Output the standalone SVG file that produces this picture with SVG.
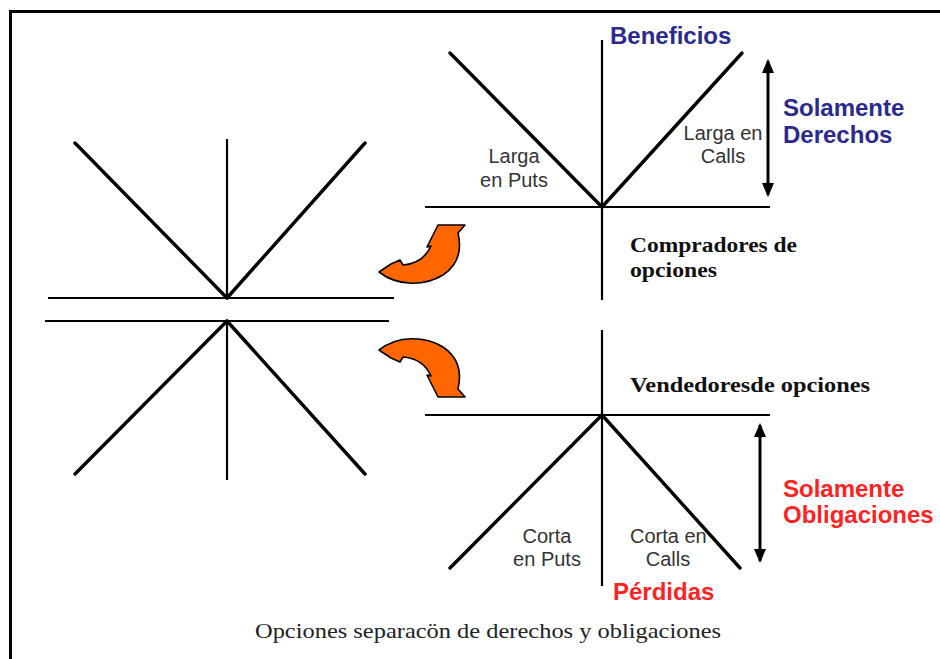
<svg xmlns="http://www.w3.org/2000/svg" width="940" height="659" viewBox="0 0 940 659">
<style>
.ax{stroke:#000;stroke-width:2.2;fill:none}
.dg{stroke:#000;stroke-width:3.4;fill:none;stroke-linecap:round}
.dbl{stroke:#000;stroke-width:3;fill:none;marker-start:url(#ah);marker-end:url(#ah)}
.big{font-family:"Liberation Sans",Arial,sans-serif;font-size:24px;font-weight:bold}
.blue{fill:#2a2a8e}
.red{fill:#ff2222}
.lbl{font-family:"Liberation Sans",Arial,sans-serif;font-size:20px;fill:#333}
.ser{font-family:"Liberation Serif","Times New Roman",serif;font-size:21px;font-weight:bold;fill:#111}
.cap{font-family:"Liberation Serif","Times New Roman",serif;font-size:22px;fill:#222}
.orange{fill:#ff6600;stroke:#000;stroke-width:1.6;stroke-linejoin:round}
</style>
<defs>
<marker id="ah" viewBox="0 0 14 12" refX="12" refY="6" markerWidth="14" markerHeight="12" markerUnits="userSpaceOnUse" orient="auto-start-reverse">
<path d="M0,0 L14,6 L0,12 Z" fill="#000"/>
</marker>
<path id="curv" d="M379,272 L391,264 L400,260 L403,265 C416,264 426,257 431,246 L427,247 L438,225 L465,225 L458,233 C462,250 458,265 443,275 C425,286 398,287 379,272 Z"/>
</defs>
<rect x="0" y="0" width="940" height="659" fill="#fff"/>
<path d="M10.5,660 L10.5,11.5 L941,11.5" fill="none" stroke="#000" stroke-width="3"/>

<g id="left-diagram">
<line class="ax" x1="227" y1="139" x2="227" y2="298"/>
<line class="ax" x1="227" y1="321" x2="227" y2="480"/>
<line class="ax" x1="48" y1="298" x2="394" y2="298"/>
<line class="ax" x1="45" y1="321" x2="389" y2="321"/>
<line class="dg" x1="75" y1="143" x2="227" y2="298"/>
<line class="dg" x1="227" y1="298" x2="365" y2="143"/>
<line class="dg" x1="75" y1="474" x2="227" y2="321"/>
<line class="dg" x1="227" y1="321" x2="365" y2="474"/>
</g>

<g id="connectors">
<use href="#curv" class="orange"/>
<use href="#curv" class="orange" transform="translate(0,622) scale(1,-1)"/>
</g>

<g id="buyers-diagram">
<line class="ax" x1="602" y1="40" x2="602" y2="300"/>
<line class="ax" x1="425" y1="207" x2="770" y2="207"/>
<line class="dg" x1="450" y1="53" x2="602" y2="207"/>
<line class="dg" x1="602" y1="207" x2="742" y2="53"/>
<line class="dbl" x1="768" y1="61" x2="768" y2="195"/>
<text class="big blue" x="610" y="44">Beneficios</text>
<text class="big blue" x="783" y="116">Solamente</text>
<text class="big blue" x="783" y="143">Derechos</text>
<text class="lbl" x="723" y="140" text-anchor="middle">Larga en</text>
<text class="lbl" x="723" y="163" text-anchor="middle">Calls</text>
<text class="lbl" x="514" y="163" text-anchor="middle">Larga</text>
<text class="lbl" x="514" y="187" text-anchor="middle">en Puts</text>
<text class="ser" x="630" y="252" textLength="167" lengthAdjust="spacingAndGlyphs">Compradores de</text>
<text class="ser" x="630" y="277" textLength="87" lengthAdjust="spacingAndGlyphs">opciones</text>
</g>

<g id="sellers-diagram">
<line class="ax" x1="602" y1="330" x2="602" y2="586"/>
<line class="ax" x1="425" y1="415" x2="770" y2="415"/>
<line class="dg" x1="602" y1="415" x2="450" y2="568"/>
<line class="dg" x1="602" y1="415" x2="740" y2="568"/>
<line class="dbl" x1="760" y1="425" x2="760" y2="561"/>
<text class="ser" x="630" y="392" textLength="240" lengthAdjust="spacingAndGlyphs">Vendedoresde opciones</text>
<text class="big red" x="783" y="497">Solamente</text>
<text class="big red" x="783" y="523">Obligaciones</text>
<text class="lbl" x="547" y="543" text-anchor="middle">Corta</text>
<text class="lbl" x="547" y="566" text-anchor="middle">en Puts</text>
<text class="lbl" x="630" y="543">Corta en</text>
<text class="lbl" x="668" y="566" text-anchor="middle">Calls</text>
<text class="big red" x="613" y="600">Pérdidas</text>
</g>

<text class="cap" x="255" y="638" textLength="466" lengthAdjust="spacingAndGlyphs">Opciones separacön de derechos y obligaciones</text>
</svg>
